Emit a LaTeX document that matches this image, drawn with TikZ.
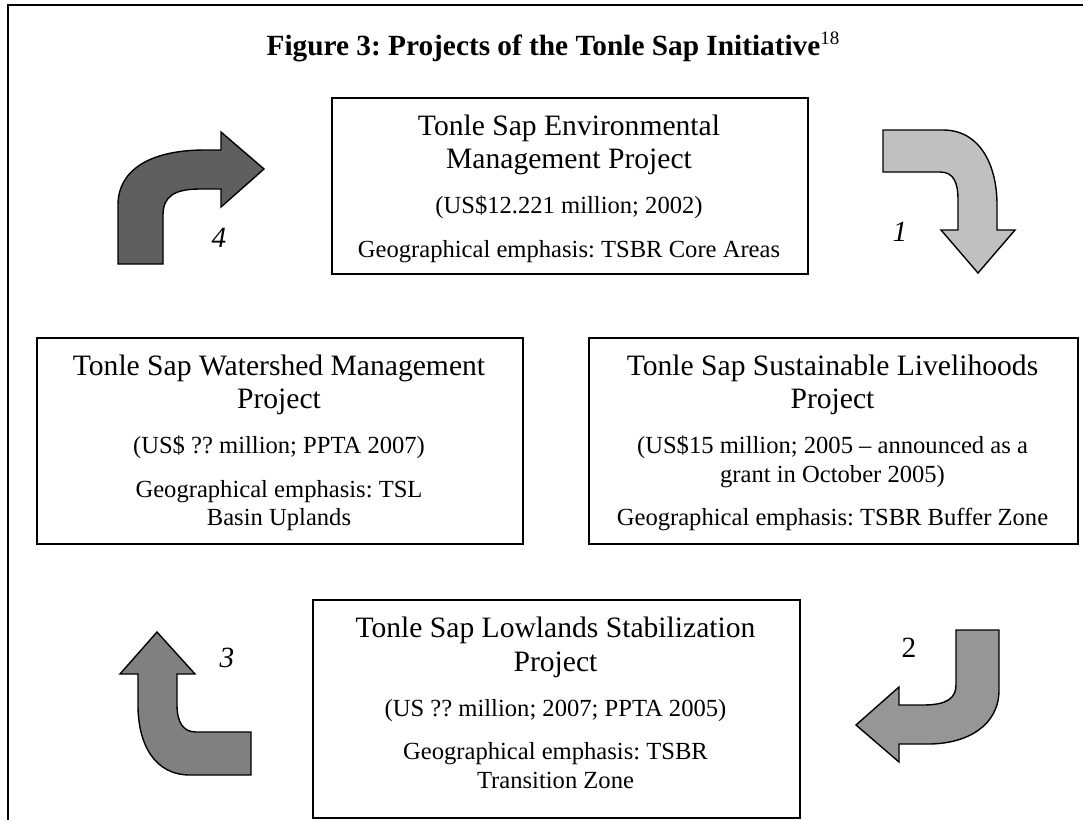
\documentclass[tikz,border=0pt]{standalone}
\usepackage{fontspec}
\setmainfont{Liberation Serif}
\begin{document}
\frenchspacing
\begin{tikzpicture}[x=1pt,y=-1pt,
  frame/.style={line width=2.6pt, black},
  pbox/.style={draw=black, line width=2pt, fill=white, anchor=north west, inner sep=0pt},
  hd/.style={anchor=base, inner sep=0pt, font=\fontsize{29.6}{33}\selectfont},
  dt/.style={anchor=base, inner sep=0pt, font=\fontsize{24.6}{29}\selectfont},
  ttl/.style={anchor=base, inner sep=0pt, font=\fontsize{29.3}{33}\selectfont\bfseries},
  num/.style={anchor=center, inner sep=0pt, font=\fontsize{29.3}{33}\selectfont\itshape},
  turnarrow/.style={draw=black, line width=1.4pt, line join=miter},
]
\useasboundingbox (0,0) rectangle (1083,819);

% outer frame, open at the right and bottom
\draw[frame] (8,830) -- (8,5) -- (1095,5);

% title
\node[ttl] (title) at (553,55) {Figure 3: Projects of the Tonle Sap Initiative\raisebox{11pt}{\fontsize{19}{19}\selectfont\mdseries 18}};

% project boxes
\node[pbox, minimum width=476pt, minimum height=176pt] (env) at (331,97) {};
\node[pbox, minimum width=486pt, minimum height=206pt] (wat) at (36,337) {};
\node[pbox, minimum width=489pt, minimum height=206pt] (liv) at (588,337) {};
\node[pbox, minimum width=487pt, minimum height=218pt] (low) at (312,599) {};

% environmental management
\node[hd] (env1) at (569,135) {Tonle Sap Environmental};
\node[hd] (env2) at (569,168) {Management Project};
\node[dt] (env3) at (569,213) {(US\$12.221 million; 2002)};
\node[dt] (env4) at (569,257) {Geographical emphasis: TSBR Core Areas};

% sustainable livelihoods
\node[hd] (liv1) at (832.5,375) {Tonle Sap Sustainable Livelihoods};
\node[hd] (liv2) at (832.5,408) {Project};
\node[dt] (liv3) at (832.5,453) {(US\$15 million; 2005 – announced as a};
\node[dt] (liv4) at (832.5,482) {grant in October 2005)};
\node[dt] (liv5) at (832.5,525) {Geographical emphasis: TSBR Buffer Zone};

% watershed management
\node[hd] (wat1) at (279,375) {Tonle Sap Watershed Management};
\node[hd] (wat2) at (279,408) {Project};
\node[dt] (wat3) at (279,453) {(US\$ ?? million; PPTA 2007)};
\node[dt] (wat4) at (279,497) {Geographical emphasis: TSL};
\node[dt] (wat5) at (279,525) {Basin Uplands};

% lowlands stabilization
\node[hd] (low1) at (555.5,637) {Tonle Sap Lowlands Stabilization};
\node[hd] (low2) at (555.5,671) {Project};
\node[dt] (low3) at (555.5,716) {(US ?? million; 2007; PPTA 2005)};
\node[dt] (low4) at (555.5,759) {Geographical emphasis: TSBR};
\node[dt] (low5) at (555.5,788) {Transition Zone};

% bent arrows between the projects
% 1: top right, turning down
\draw[turnarrow, fill={rgb,255:red,192;green,192;blue,192}]
  (883,130) -- (943,130) .. controls (980,130) and (997,165) .. (997,205)
  -- (997,230) -- (1015,230) -- (978,273) -- (941,230) -- (958,230) -- (958,200)
  .. controls (958,183) and (954,172) .. (940,172) -- (883,172) -- cycle;
% 2: bottom right, turning left
\draw[turnarrow, fill={rgb,255:red,150;green,150;blue,150}]
  (956,630) -- (999,630) -- (999,690) .. controls (999,725) and (968,744) .. (928,744)
  -- (899,744) -- (899,762) -- (856,725) -- (899,687) -- (899,705) -- (923,705)
  .. controls (947,705) and (956,698) .. (956,685) -- cycle;
% 3: bottom left, turning up
\draw[turnarrow, fill={rgb,255:red,128;green,128;blue,128}]
  (157,632) -- (195,674) -- (177,674) -- (177,705) .. controls (177,722) and (183,732) .. (196,732)
  -- (251,732) -- (251,775) -- (190,775) .. controls (155,775) and (138,745) .. (138,705)
  -- (138,674) -- (120,674) -- cycle;
% 4: top left, turning right
\draw[turnarrow, fill={rgb,255:red,95;green,95;blue,95}]
  (118,264) -- (163,264) -- (163,215) .. controls (163,196) and (175,189) .. (200,189)
  -- (221,189) -- (221,207) -- (264,169) -- (221,132) -- (221,150) -- (205,150)
  .. controls (150,150) and (118,170) .. (118,205) -- cycle;

% step numbers
\node[num] (n1) at (900,232) {1};
\node[num, font=\fontsize{29.3}{33}\selectfont\upshape] (n2) at (909,648) {2};
\node[num] (n3) at (227,658) {3};
\node[num] (n4) at (219,238) {4};
\end{tikzpicture}
\end{document}
